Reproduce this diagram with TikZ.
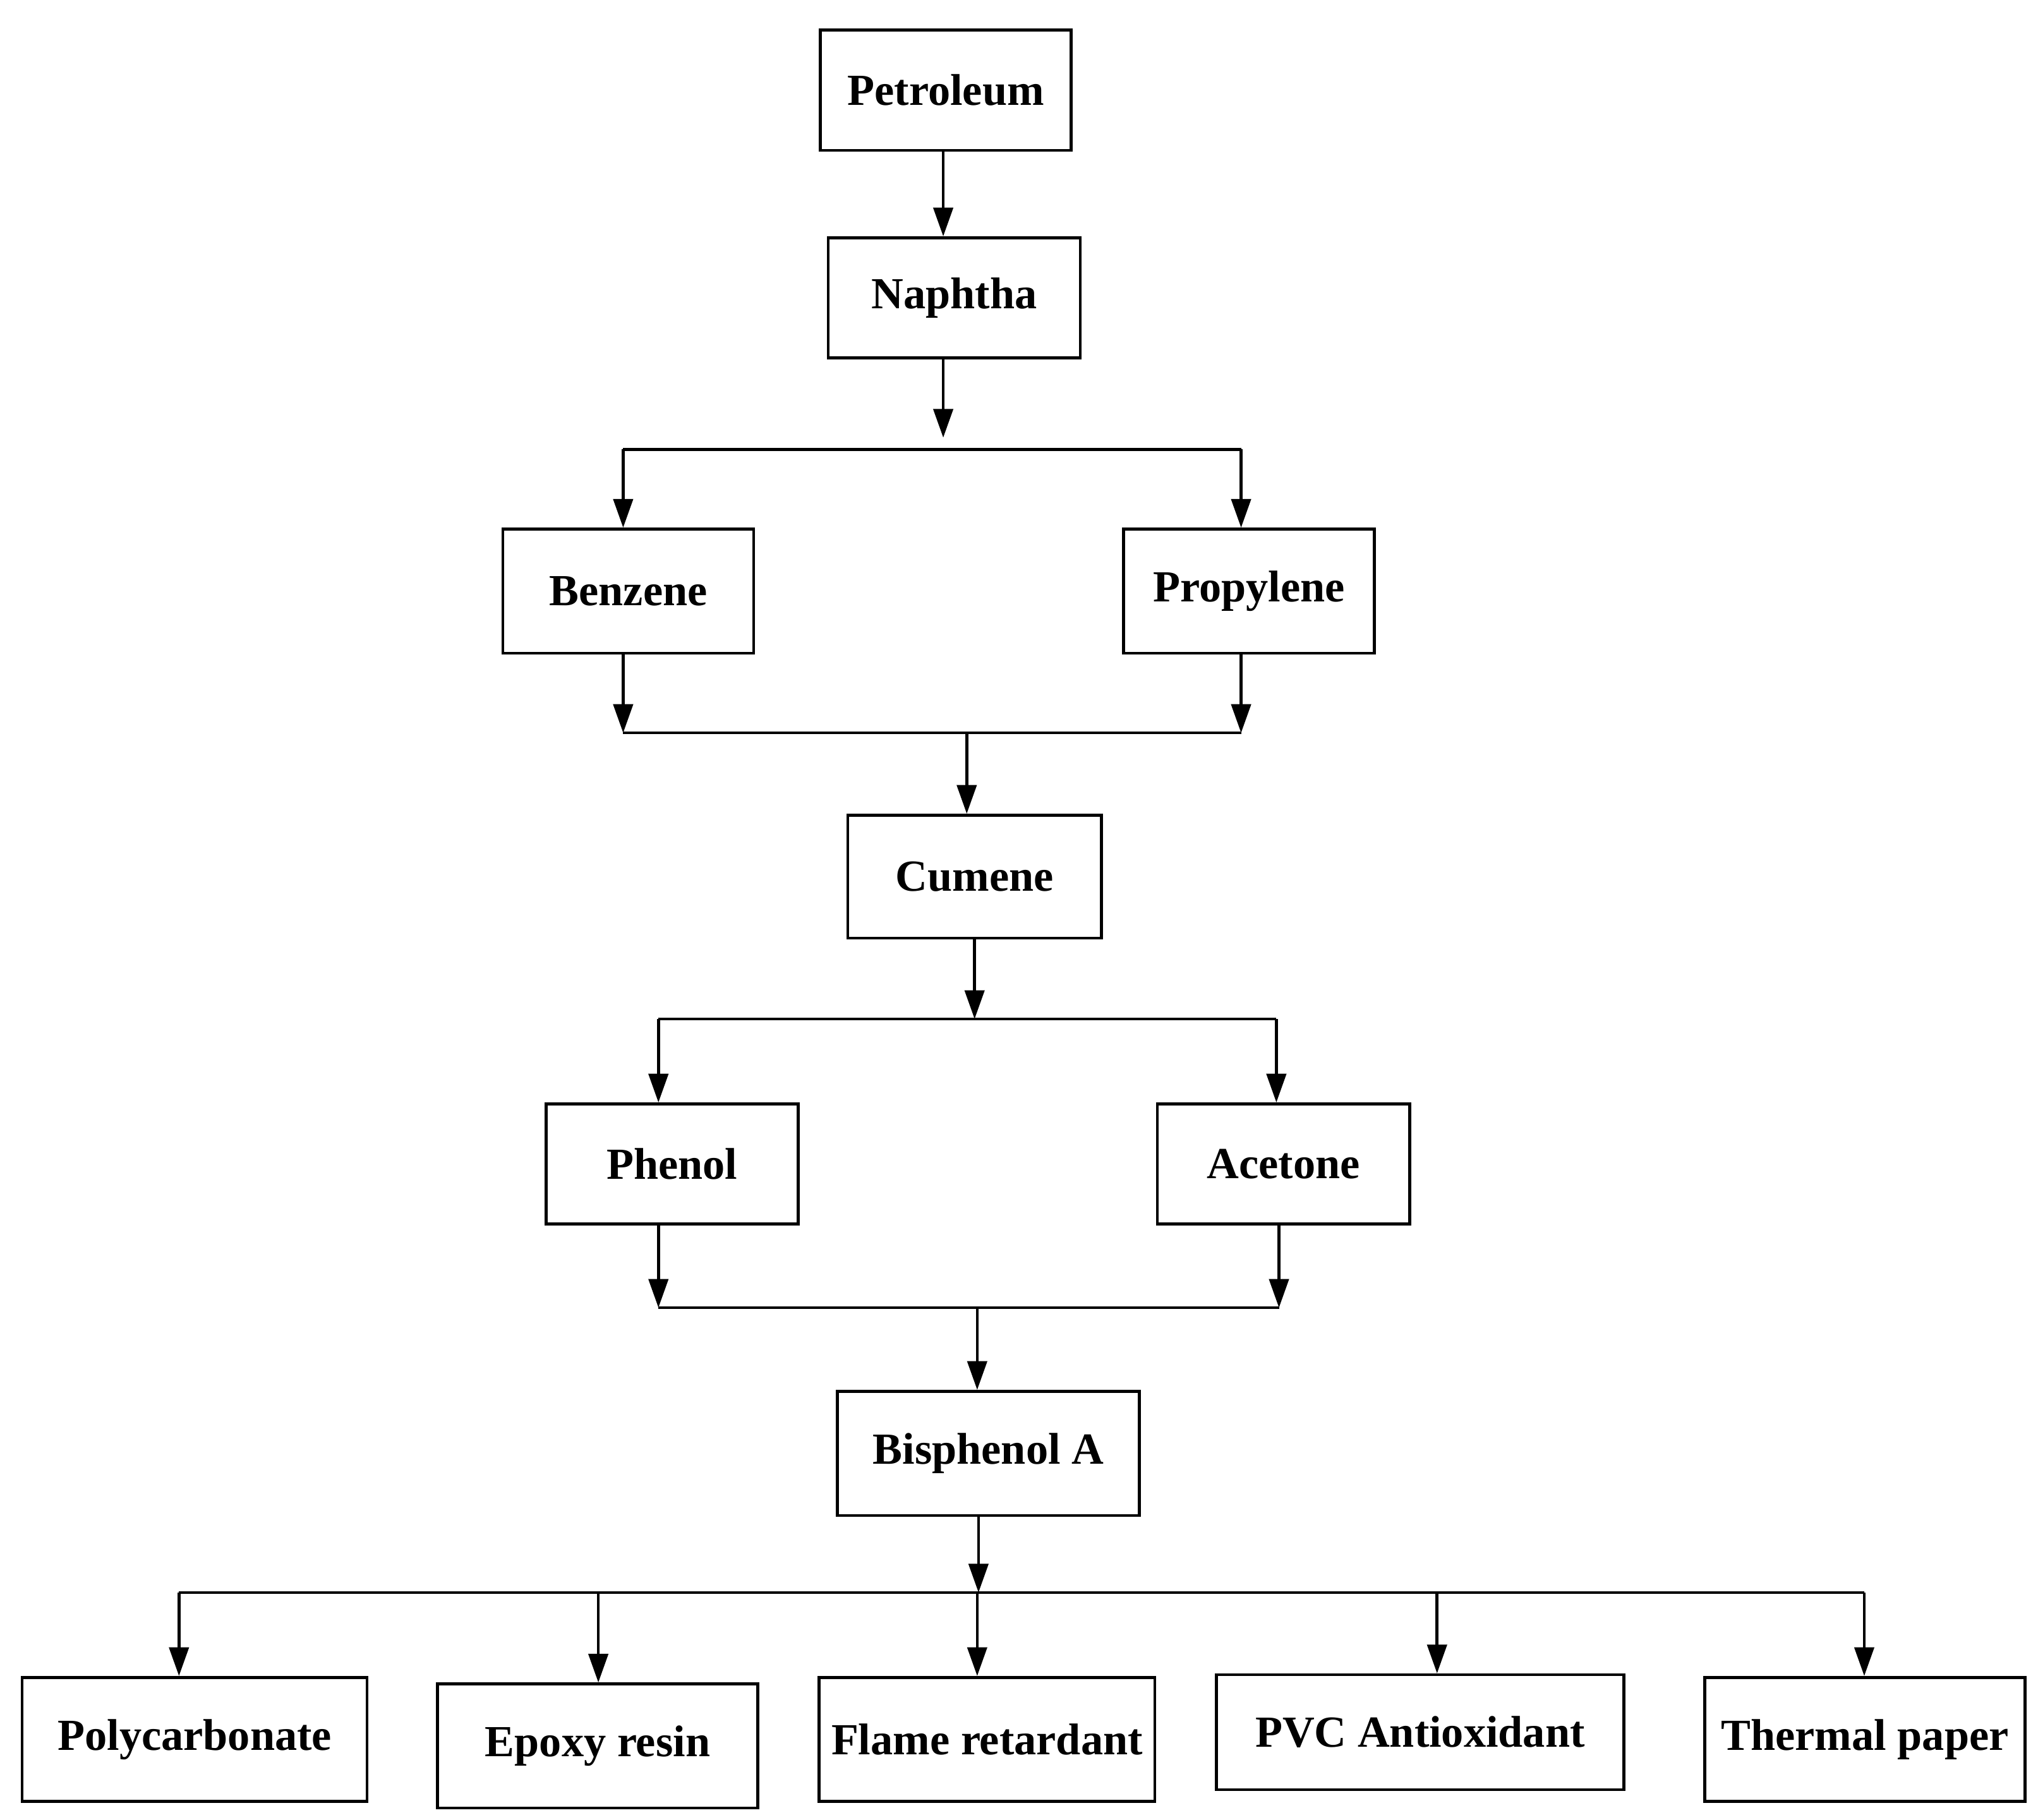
\documentclass[tikz,border=0pt]{standalone}
\usepackage{fontspec}
\setmainfont{Liberation Serif}
\usetikzlibrary{arrows.meta}
\begin{document}
\begin{tikzpicture}[x=0.5pt,y=-0.5pt,
  box/.style={draw=black, line width=1.1pt, inner sep=0pt, fill=white,
    font=\bfseries\fontsize{17}{20}\selectfont},
  arr/.style={line width=1.1pt, -{Triangle[length=11pt,width=7.5pt]}},
  ln/.style={line width=1.1pt}]
\useasboundingbox (0,0) rectangle (1560,1393);
% nodes
\node[box, minimum width=96pt,  minimum height=46pt]   (pet) at (724,69)      {Petroleum};
\node[box, minimum width=96.5pt,minimum height=46pt]   (nap) at (730.5,228)   {Naphtha};
\node[box, minimum width=96pt,  minimum height=47.5pt] (ben) at (481,452.5)   {Benzene};
\node[box, minimum width=96pt,  minimum height=47.5pt] (pro) at (956,452.5)   {Propylene};
\node[box, minimum width=97pt,  minimum height=47pt]   (cum) at (746,671)     {Cumene};
\node[box, minimum width=96.5pt,minimum height=46pt]   (phe) at (514.5,891)   {Phenol};
\node[box, minimum width=96.5pt,minimum height=46pt]   (ace) at (982.5,891)   {Acetone};
\node[box, minimum width=115.5pt,minimum height=47.5pt](bpa) at (756.5,1112.5){Bisphenol A};
\node[box, minimum width=132pt, minimum height=47.5pt] (pc)  at (149,1331.5)  {Polycarbonate};
\node[box, minimum width=122.5pt,minimum height=47.5pt](ep)  at (457.5,1336.5){Epoxy resin};
\node[box, minimum width=128.5pt,minimum height=47.5pt](fr)  at (755.5,1331.5){Flame retardant};
\node[box, minimum width=156pt, minimum height=44pt]   (pvc) at (1087,1326)   {PVC Antioxidant};
\node[box, minimum width=122.5pt,minimum height=47.5pt](tp)  at (1427.5,1331.5){Thermal paper};
% junction coordinates
\coordinate (t1) at (722,335);
\coordinate (b1l) at (477,344);
\coordinate (b1r) at (950,344);
\coordinate (j1l) at (477,561);
\coordinate (j1r) at (950,561);
\coordinate (j1m) at (740,561);
\coordinate (t2) at (746,780);
\coordinate (b2l) at (504,780);
\coordinate (b2r) at (977,780);
\coordinate (j2l) at (504,1001);
\coordinate (j2r) at (979,1001);
\coordinate (j2m) at (748,1001);
\coordinate (t3) at (749,1219);
\coordinate (b3a) at (137,1219);
\coordinate (b3b) at (458,1219);
\coordinate (b3c) at (748,1219);
\coordinate (b3d) at (1100,1219);
\coordinate (b3e) at (1427,1219);
% connectors
\draw[arr] (pet.south -| t1) -- (t1 |- nap.north);
\draw[arr] (nap.south -| t1) -- (t1);
\draw[ln] (b1l) -- (b1r);
\draw[arr] (b1l) -- (b1l |- ben.north);
\draw[arr] (b1r) -- (b1r |- pro.north);
\draw[arr] (ben.south -| j1l) -- (j1l);
\draw[arr] (pro.south -| j1r) -- (j1r);
\draw[ln] (j1l) -- (j1r);
\draw[arr] (j1m) -- (j1m |- cum.north);
\draw[arr] (cum.south -| t2) -- (t2);
\draw[ln] (b2l) -- (b2r);
\draw[arr] (b2l) -- (b2l |- phe.north);
\draw[arr] (b2r) -- (b2r |- ace.north);
\draw[arr] (phe.south -| j2l) -- (j2l);
\draw[arr] (ace.south -| j2r) -- (j2r);
\draw[ln] (j2l) -- (j2r);
\draw[arr] (j2m) -- (j2m |- bpa.north);
\draw[arr] (bpa.south -| t3) -- (t3);
\draw[ln] (b3a) -- (b3e);
\draw[arr] (b3a) -- (b3a |- pc.north);
\draw[arr] (b3b) -- (b3b |- ep.north);
\draw[arr] (b3c) -- (b3c |- fr.north);
\draw[arr] (b3d) -- (b3d |- pvc.north);
\draw[arr] (b3e) -- (b3e |- tp.north);
\end{tikzpicture}
\end{document}
